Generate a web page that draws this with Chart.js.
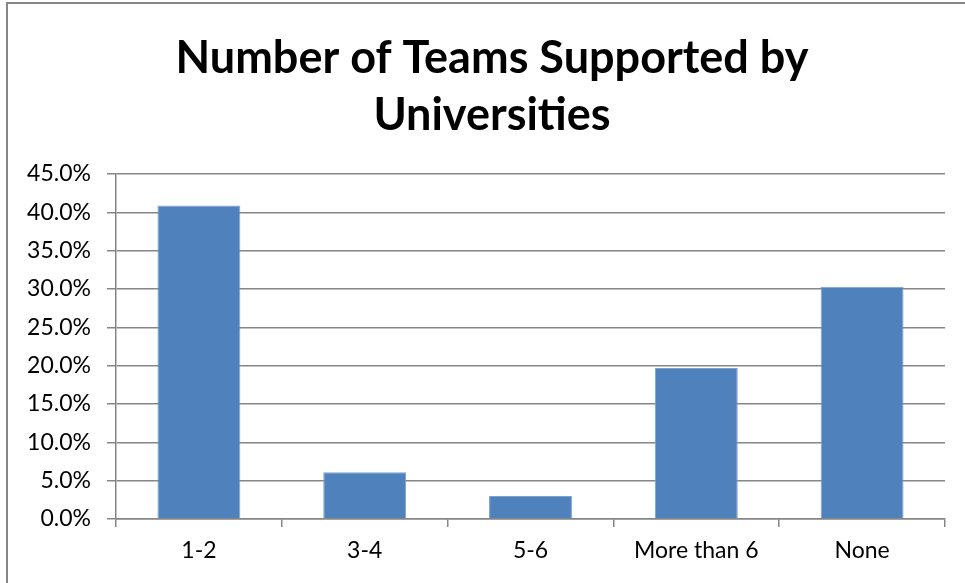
<!DOCTYPE html>
<html>
<head>
<meta charset="utf-8">
<script src="https://cdn.jsdelivr.net/npm/chart.js@4.4.0/dist/chart.umd.min.js"></script>
<style>
    html, body { margin: 0; padding: 0; background: #fff; }
    #wrap { position: relative; width: 965px; height: 583px; overflow: hidden; }
    #frame {
        position: absolute; left: 6px; top: 2px; width: 990px; height: 600px;
        border: 2px solid #868686; box-sizing: border-box;
    }
    #myChart { position: absolute; left: 0; top: 0; }
</style>
</head>
<body>
<div id="wrap">
    <div id="frame"></div>
    <canvas id="myChart" width="965" height="583"></canvas>
</div>
<script>
const categories = ["1-2", "3-4", "5-6", "More than 6", "None"];
const shares = [40.9, 6.1, 3.0, 19.7, 30.3];
const titleLines = ["Number of Teams Supported by", "Universities"];

const gridColor = "#868686";
const fontFamily = "Lato, 'Liberation Sans', sans-serif";

// title is centred on the outer frame, not the canvas, so draw it ourselves
const frameTitle = {
    id: 'frameTitle',
    afterDraw(chart) {
        const ctx = chart.ctx;
        ctx.save();
        ctx.fillStyle = '#000';
        ctx.font = "bold 45px " + fontFamily;
        ctx.textAlign = 'center';
        ctx.textBaseline = 'middle';
        titleLines.forEach((line, i) => {
            ctx.fillText(line, 492, 58 + i * 57);
        });
        ctx.restore();
    }
};

function createChart() {
    const info = {
        labels: categories,
        datasets: [
            {
                data: shares,
                backgroundColor: "#4f81bd",
                borderColor: "#7ea1cf",
                borderWidth: 1,
                barPercentage: 0.5,
                categoryPercentage: 1.0,
            }
        ]
    };

    const config = {
        type: 'bar',
        data: info,
        plugins: [frameTitle],
        options: {
            responsive: false,
            animation: false,
            layout: {
                padding: { left: 8, right: 20, top: 174, bottom: 0 },
            },
            scales: {
                x: {
                    grid: {
                        drawOnChartArea: false,
                        drawTicks: true,
                        tickLength: 8,
                        color: gridColor,
                        lineWidth: 1.5,
                    },
                    border: { color: gridColor, width: 1.5 },
                    ticks: {
                        color: '#000',
                        padding: 10,
                        font: { family: fontFamily, size: 23 },
                        maxRotation: 0,
                    },
                    afterFit: function (scale) { scale.height = 64; },
                },
                y: {
                    min: 0,
                    max: 45,
                    grid: {
                        color: gridColor,
                        lineWidth: 1.5,
                        tickLength: 9,
                    },
                    border: { color: gridColor, width: 1.5 },
                    ticks: {
                        stepSize: 5,
                        color: '#000',
                        padding: 16,
                        font: { family: fontFamily, size: 23 },
                        callback: function (value) { return value.toFixed(1) + '%'; },
                    },
                    afterFit: function (scale) { scale.width = 108; },
                },
            },
            plugins: {
                legend: { display: false },
                tooltip: { enabled: false },
                title: { display: false },
            },
        }
    };

    new Chart('myChart', config);
}

createChart();
</script>
</body>
</html>
